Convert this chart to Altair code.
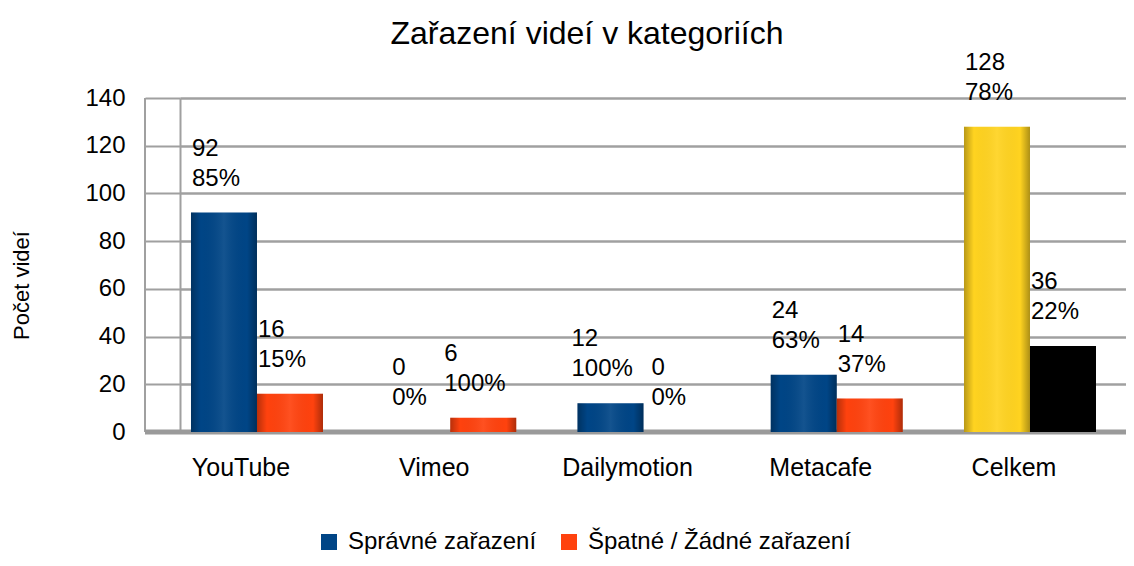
import altair as alt
import pandas as pd

categories = ["YouTube", "Vimeo", "Dailymotion", "Metacafe", "Celkem"]
correct = [92, 0, 12, 24, 128]
wrong = [16, 6, 0, 14, 36]
correct_pct = [85, 0, 100, 63, 78]
wrong_pct = [15, 100, 0, 37, 22]
series_names = ["Správné zařazení", "Špatné / Žádné zařazení"]
color_keys = ["Správné zařazení", "Špatné / Žádné zařazení", "Celkem správně", "Celkem špatně"]
colors = ["#004586", "#ff420e", "#ffd320", "#000000"]
y_ticks = [0, 20, 40, 60, 80, 100, 120, 140]

FONT = "Liberation Sans"

rows = []
for i, c in enumerate(categories):
    for s, vals, pcts in ((0, correct, correct_pct), (1, wrong, wrong_pct)):
        key = color_keys[2 + s] if c == "Celkem" else color_keys[s]
        rows.append({
            "kategorie": c,
            "serie": series_names[s],
            "pocet": vals[i],
            "cislo": str(vals[i]),
            "podil": f"{pcts[i]}%",
            "barva": key,
        })
df = pd.DataFrame(rows)

W, H = 946, 334

x_enc = alt.X(
    "kategorie:N", sort=categories,
    scale=alt.Scale(paddingInner=0.3169, paddingOuter=0.10605, align=0.268),
    axis=alt.Axis(title=None, labelFontSize=25, labelFont=FONT, labelColor="#000",
                  labelOffset=-16, labelPadding=23, ticks=False, domain=False,
                  labelAngle=0),
)
xo_enc = alt.XOffset("serie:N", sort=series_names,
                     scale=alt.Scale(paddingInner=0, paddingOuter=0))
y_enc = alt.Y(
    "pocet:Q", scale=alt.Scale(domain=[0, 140], nice=False),
    axis=alt.Axis(values=y_ticks, title="Počet videí", grid=True,
                  gridColor="#a0a0a0", gridWidth=2.5,
                  tickSize=35, tickColor="#a0a0a0", tickWidth=2,
                  domainColor="#a0a0a0", domainWidth=2,
                  labelFontSize=24, labelFont=FONT, labelColor="#000",
                  labelPadding=20,
                  titleFontSize=22, titleFont=FONT, titleFontWeight="normal",
                  titleColor="#000", titleX=-159, titleY=187,
                  titleBaseline="middle"),
)

base = alt.Chart(df).encode(x=x_enc, xOffset=xo_enc, y=y_enc)

bars = base.mark_bar(strokeWidth=0).encode(
    color=alt.Color(
        "barva:N",
        scale=alt.Scale(domain=color_keys, range=colors),
        legend=alt.Legend(values=series_names, orient="none", legendX=137,
                          legendY=432, direction="horizontal", title=None,
                          symbolType="square", symbolSize=256,
                          symbolStrokeWidth=0, labelFontSize=24,
                          labelFont=FONT, labelColor="#000", labelLimit=0,
                          columnPadding=20, labelOffset=7),
    )
)

shade = base.mark_bar(
    strokeWidth=0,
    fill=alt.LinearGradient(
        gradient="linear", x1=0, x2=1, y1=0, y2=0,
        stops=[
            alt.GradientStop(offset=0, color="rgba(0,0,0,0.28)"),
            alt.GradientStop(offset=0.15, color="rgba(0,0,0,0.0)"),
            alt.GradientStop(offset=0.5, color="rgba(255,255,255,0.08)"),
            alt.GradientStop(offset=0.85, color="rgba(0,0,0,0.0)"),
            alt.GradientStop(offset=1, color="rgba(0,0,0,0.32)"),
        ],
    ),
).transform_filter("datum.barva != 'Celkem špatně' && datum.pocet > 0")

label_layers = []
for L, dx in ((2, -25), (3, -32), (4, -39)):
    flt = f"length(datum.podil) == {L}"
    label_layers.append(
        base.mark_text(align="left", baseline="middle", dx=dx, dy=-64,
                       fontSize=24, font=FONT, color="#000")
        .encode(text="cislo:N").transform_filter(flt)
    )
    label_layers.append(
        base.mark_text(align="left", baseline="middle", dx=dx, dy=-34,
                       fontSize=24, font=FONT, color="#000")
        .encode(text="podil:N").transform_filter(flt)
    )

floor = alt.Chart(pd.DataFrame({"pocet": [0]})).mark_rule(
    color="#9a9a9a", strokeWidth=5
).encode(y="pocet:Q", x=alt.value(-35), x2=alt.value(W))

wall = alt.Chart(pd.DataFrame({"a": [140], "b": [0]})).mark_rule(
    color="#a0a0a0", strokeWidth=2
).encode(x=alt.value(-35), y="a:Q", y2="b:Q")

chart = alt.layer(wall, floor, bars, shade, *label_layers).properties(
    width=W, height=H,
    title=alt.Title("Zařazení videí v kategoriích", fontSize=32, font=FONT,
                    fontWeight="normal", color="#000", anchor="middle",
                    dx=-66, offset=0),
    autosize=alt.AutoSizeParams(type="none"),
    padding={"left": 172, "top": 90, "right": 0, "bottom": 126},
).configure_view(stroke=None)

chart.save("out.html", embed_options={"renderer": "svg", "actions": False})
